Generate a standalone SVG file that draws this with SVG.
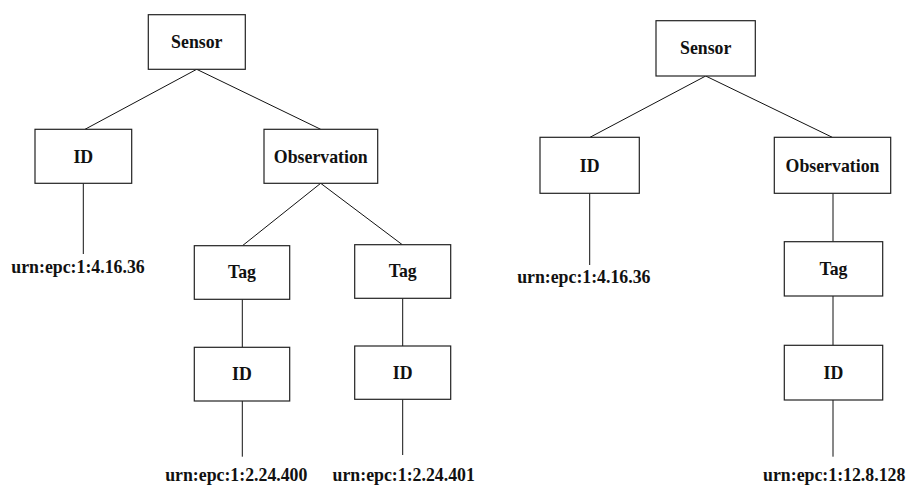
<svg xmlns="http://www.w3.org/2000/svg" width="909" height="486" viewBox="0 0 909 486">
<style>
  rect { fill: #fff; stroke: #222; stroke-width: 1.2; }
  line { stroke: #111; stroke-width: 1; }
  text { font-family: "Liberation Serif", "Times New Roman", serif; font-weight: bold; font-size: 17.8px; fill: #111; text-anchor: middle; }
</style>
<rect x="0" y="0" width="909" height="486" style="fill:#fff;stroke:none"/>
<g id="connectors">
  <line x1="196.7" y1="69.3" x2="85" y2="129.3"/>
  <line x1="196.7" y1="69.3" x2="320.7" y2="129.3"/>
  <line x1="83.3" y1="183.3" x2="83.3" y2="254"/>
  <line x1="320.7" y1="183.3" x2="242.7" y2="245.5"/>
  <line x1="320.7" y1="183.3" x2="402.3" y2="244.7"/>
  <line x1="242.3" y1="299.3" x2="242.3" y2="347.3"/>
  <line x1="242.3" y1="401" x2="242.3" y2="456.7"/>
  <line x1="402.7" y1="298.3" x2="402.7" y2="346"/>
  <line x1="402.7" y1="399.3" x2="402.7" y2="455"/>
  <line x1="705.7" y1="76" x2="590" y2="137.3"/>
  <line x1="705.7" y1="76" x2="832.3" y2="137.3"/>
  <line x1="589.7" y1="193.3" x2="589.7" y2="265"/>
  <line x1="833" y1="193.3" x2="833" y2="241.7"/>
  <line x1="833" y1="296" x2="833" y2="345.3"/>
  <line x1="833" y1="400" x2="833" y2="456.7"/>
</g>
<g id="sensor1"><rect x="148.3" y="14.7" width="97" height="54.6"/><text x="196.8" y="48">Sensor</text></g>
<g id="id1"><rect x="35" y="129.3" width="96.7" height="54"/><text x="83.3" y="162.6">ID</text></g>
<g id="observation1"><rect x="264" y="129.3" width="113.7" height="54"/><text x="320.8" y="162.6">Observation</text></g>
<g id="urn1"><text x="78" y="273">urn:epc:1:4.16.36</text></g>
<g id="tag1"><rect x="194.3" y="245.7" width="95.4" height="53.6"/><text x="242" y="278">Tag</text></g>
<g id="tag2"><rect x="354.7" y="244.7" width="96" height="53.6"/><text x="402.7" y="277">Tag</text></g>
<g id="id2"><rect x="194.3" y="347.3" width="95.4" height="53.7"/><text x="242" y="380.3">ID</text></g>
<g id="id3"><rect x="354.7" y="346" width="96" height="53.3"/><text x="402.7" y="378.7">ID</text></g>
<g id="urn2"><text x="236.3" y="481">urn:epc:1:2.24.400</text></g>
<g id="urn3"><text x="403.7" y="481">urn:epc:1:2.24.401</text></g>
<g id="sensor2"><rect x="656" y="20.7" width="99.3" height="55.3"/><text x="705.7" y="54">Sensor</text></g>
<g id="id4"><rect x="540" y="137.3" width="99.3" height="56"/><text x="589.7" y="171.5">ID</text></g>
<g id="observation2"><rect x="774.3" y="137.3" width="116.4" height="56"/><text x="832.5" y="171.5">Observation</text></g>
<g id="urn4"><text x="583.8" y="283">urn:epc:1:4.16.36</text></g>
<g id="tag3"><rect x="784.3" y="241.7" width="98.4" height="54.3"/><text x="833.5" y="275">Tag</text></g>
<g id="id5"><rect x="784.3" y="345.3" width="98.4" height="54.7"/><text x="833.5" y="378.5">ID</text></g>
<g id="urn5"><text x="834.2" y="481">urn:epc:1:12.8.128</text></g>
</svg>
